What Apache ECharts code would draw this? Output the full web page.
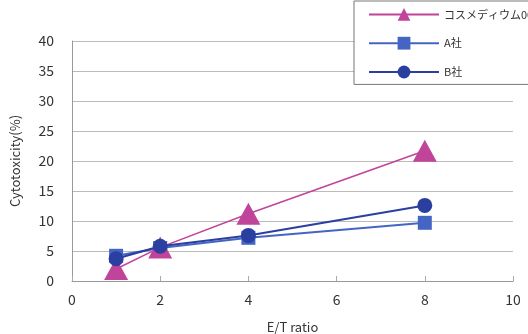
<!DOCTYPE html>
<html><head><meta charset="utf-8">
<script src="https://cdn.jsdelivr.net/npm/echarts@6/dist/echarts.min.js"></script>
<style>html,body{margin:0;padding:0;background:#fff}#c{width:528px;height:334px}</style>
</head><body><div id="c"></div>
<script>
var seriesNames = ['コスメディウム008', 'A社', 'B社'];
var xValues = [1, 2, 4, 8];
var cosmedium = [2, 5.6, 11.2, 21.7];
var companyA = [4.2, 5.5, 7.2, 9.7];
var companyB = [3.7, 5.8, 7.6, 12.6];
var xTicks = [0, 2, 4, 6, 8, 10];
var yTicks = [0, 5, 10, 15, 20, 25, 30, 35, 40];

function pairs(vals){ return xValues.map(function(x,i){ return [x, vals[i]]; }); }

var font = '"Noto Sans CJK JP", "Noto Sans", sans-serif';
var chart = echarts.init(document.getElementById('c'));
chart.setOption({
  animation: false,
  textStyle: {fontFamily: font},
  grid: {left: 72, right: 15, top: 41, bottom: 53, containLabel: false, outerBoundsMode: 'none'},
  legend: {
    orient: 'vertical', left: 354, top: 1,
    padding: [7, 60, 6, 14],
    backgroundColor: '#fff', borderColor: '#777', borderWidth: 1,
    itemWidth: 70, itemHeight: 16, itemGap: 16,
    textStyle: {fontSize: 11, color: '#333', fontFamily: font, overflow: 'none', width: 200},
    data: seriesNames
  },
  xAxis: {
    type: 'value', min: 0, max: 10, interval: 2,
    name: 'E/T ratio', nameLocation: 'middle', nameGap: 40,
    nameTextStyle: {fontSize: 13, color: '#333'},
    axisLine: {show: true, lineStyle: {color: '#999'}},
    axisTick: {show: true, inside: true, length: 5, lineStyle: {color: '#aaa'}},
    axisLabel: {fontSize: 14, color: '#333', margin: 12, formatter: function(v){ return xTicks.indexOf(v) >= 0 ? String(v) : ''; }},
    splitLine: {show: false}
  },
  yAxis: {
    type: 'value', min: 0, max: 40, interval: 5,
    name: 'Cytotoxicity(%)', nameLocation: 'middle', nameGap: 50,
    nameTextStyle: {fontSize: 13, color: '#333'},
    axisLine: {show: true, lineStyle: {color: '#999'}},
    axisTick: {show: false},
    axisLabel: {fontSize: 14, color: '#333', margin: 18, formatter: function(v){ return yTicks.indexOf(v) >= 0 ? String(v) : ''; }},
    splitLine: {show: true, lineStyle: {color: '#bbb'}}
  },
  series: [
    {name: seriesNames[0], type: 'line', data: pairs(cosmedium), symbol: 'triangle', symbolSize: [24, 22],
     color: '#c0449a', lineStyle: {width: 1.5, color: '#c0449a'}, itemStyle: {color: '#c0449a'}, z: 3},
    {name: seriesNames[1], type: 'line', data: pairs(companyA), symbol: 'rect', symbolSize: 14,
     color: '#4565c4', lineStyle: {width: 2, color: '#4565c4'}, itemStyle: {color: '#4565c4'}, z: 2},
    {name: seriesNames[2], type: 'line', data: pairs(companyB), symbol: 'circle', symbolSize: 15,
     color: '#2b3fa0', lineStyle: {width: 2, color: '#2b3fa0'}, itemStyle: {color: '#2b3fa0'}, z: 4}
  ]
});
</script></body></html>
